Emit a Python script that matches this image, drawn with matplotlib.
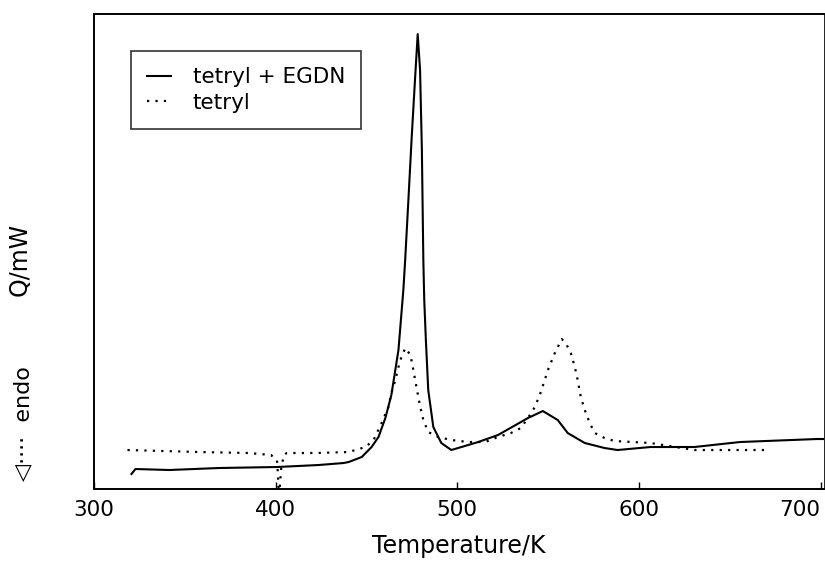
import matplotlib
matplotlib.use("Agg")
import matplotlib.pyplot as plt

# tetryl + EGDN (solid)
t_egdn = [320.6, 322.8, 341.4, 368.8, 400.7, 423.7, 437.4, 440.2, 447.4, 452.8,
          456.6, 460.4, 463.7, 467.6, 470.3, 471.3, 473.1, 474.9, 476.7, 478.2,
          479.5, 480.5, 481.3, 481.8, 482.7, 484.0, 486.8, 491.2, 496.7, 506.0,
          511.5, 522.4, 538.9, 547.1, 555.3, 560.8, 570.2, 581.1, 588.2, 606.4,
          630.5, 655.7, 698.0, 702.0]
q_egdn = [15, 20, 19, 21, 22, 24, 26, 27, 32, 42,
          52, 71, 94, 139, 199, 229, 290, 352, 409, 455,
          419, 339, 229, 189, 149, 99, 62, 46, 39, 44,
          47, 54, 71, 78, 69, 56, 46, 41, 39, 42,
          42, 47, 50, 50]

# tetryl (dotted)
t_tetryl = [318.4, 357.9, 385.3, 397.4, 400.7, 401.2, 401.8, 403.0, 404.5, 406.1,
            422.0, 440.2, 449.5, 453.9, 458.3, 462.1, 463.7, 465.9, 467.6, 469.2,
            471.4, 474.2, 475.8, 477.5, 479.6, 481.3, 484.0, 489.5, 496.7, 506.0,
            515.3, 522.4, 529.5, 535.0, 538.9, 542.7, 546.0, 549.9, 553.7, 557.5,
            559.7, 562.5, 564.7, 566.3, 568.0, 570.2, 572.9, 575.7, 581.1, 586.6,
            606.4, 630.5, 670.6]
q_tetryl = [39, 37, 36, 34, 29, 16, -10, 20, 34, 36,
            36, 37, 42, 49, 66, 82, 96, 109, 122, 132,
            141, 134, 119, 102, 82, 69, 57, 52, 49, 47,
            47, 52, 56, 61, 71, 82, 97, 119, 136, 150,
            146, 136, 122, 109, 92, 79, 66, 56, 51, 48,
            46, 39, 39]

x_ticks = [300, 400, 500, 600, 700]

fig = plt.figure(figsize=(8.25, 5.65), dpi=100)
ax = fig.add_axes([0.114, 0.1345, 0.885, 0.8405])

ax.plot(t_egdn, q_egdn, color="black", lw=1.5, label="tetryl + EGDN")
ax.plot(t_tetryl, q_tetryl, color="black", lw=1.6, linestyle=(0, (1, 2.8)),
        label="tetryl")

ax.set_xlim(300, 702)
ax.set_ylim(0, 475)
ax.set_xticks(x_ticks)
ax.set_yticks([])
ax.tick_params(axis="x", direction="in", length=5, width=1, labelsize=15.5, pad=8)
ax.get_xticklabels()[-1].set_horizontalalignment("right")
for s in ax.spines.values():
    s.set_linewidth(1.4)
ax.spines["right"].set_linewidth(0.6)

ax.set_xlabel("Temperature/K", fontsize=17, labelpad=10)

leg = ax.legend(loc="upper left", bbox_to_anchor=(0.051, 0.922), fontsize=15.5,
                frameon=True, fancybox=False, edgecolor="black",
                handlelength=1.1, handletextpad=1.0, borderpad=0.75,
                labelspacing=0.25, borderaxespad=0)
leg.get_frame().set_linewidth(1.2)

fig.text(0.024, 0.54, "Q/mW", rotation=90, fontsize=17, ha="center", va="center")
fig.text(0.028, 0.25, "\u25c1\u00b7\u00b7\u00b7\u00b7  endo", rotation=90,
         fontsize=16, ha="center", va="center")

fig.savefig("out.png", dpi=100)
